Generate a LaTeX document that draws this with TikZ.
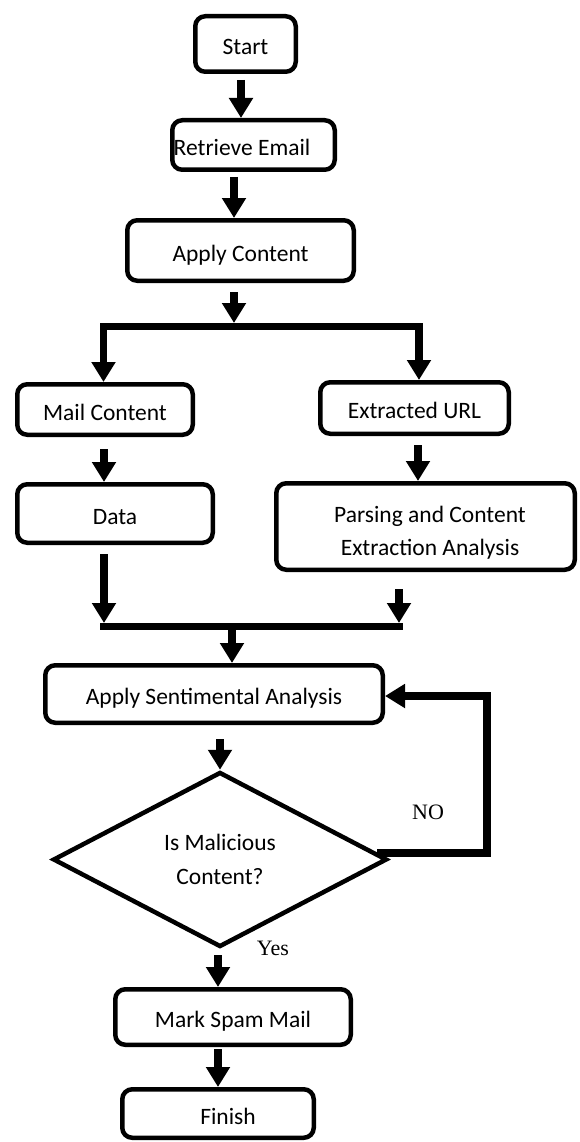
\documentclass[tikz,border=0pt]{standalone}
\usepackage{fontspec}
\setmainfont{Carlito}
\newfontfamily\timesf{Liberation Serif}
\usetikzlibrary{arrows.meta,shapes.geometric,calc}
\begin{document}
\begin{tikzpicture}[x=1pt,y=-1pt,
  box/.style={draw, line width=4.5pt, rounded corners=10pt, inner sep=0pt,
    font=\fontsize{23.5}{33}\selectfont, text height=25pt, text depth=3.8pt},
  mbox/.style={draw, line width=4.5pt, rounded corners=10pt, inner sep=0pt,
    font=\fontsize{23.5}{33}\selectfont, align=center, text height=60pt, text depth=1.8pt},
  dec/.style={draw, diamond, line width=4.5pt, inner sep=0pt,
    font=\fontsize{23.5}{34}\selectfont, align=center},
  bar/.style={line width=7.5pt, line cap=rect},
  arr/.style={line width=7.5pt, line join=miter, -{Triangle[width=23pt,length=20pt]}},
  lab/.style={font=\timesf\fontsize{22}{26}\selectfont}
]
\useasboundingbox (0,0) rectangle (579,1142);

% nodes
\node[box, minimum width=100.5pt, minimum height=55.5pt] (start) at (245.5,44) {Start};
\node[box, minimum width=162.5pt, minimum height=49.5pt] (retrieve) at (253.5,145) {\hspace*{-23pt}Retrieve Email};
\node[box, minimum width=226.5pt, minimum height=60.5pt] (apply) at (240.5,250.5) {Apply Content};
\node[box, minimum width=175.5pt, minimum height=50.5pt] (mail) at (105,409.5) {Mail Content};
\node[box, minimum width=188.5pt, minimum height=51.5pt] (url) at (414.5,408) {Extracted URL};
\node[box, minimum width=195.5pt, minimum height=58.5pt] (data) at (115,513.5) {Data};
\node[mbox, minimum width=298.5pt, minimum height=86.5pt] (parsing) at (425.5,526.5) {\hspace*{9pt}Parsing and Content\\\hspace*{9pt}Extraction Analysis};
\node[box, minimum width=337.5pt, minimum height=57.5pt] (sent) at (214,694) {Apply Sentimental Analysis};
\node[dec, minimum width=334pt, minimum height=175pt] (dia) at (220,859.5) {Is Malicious\\Content?};
\node[box, minimum width=235.5pt, minimum height=55.5pt] (mark) at (233,1017) {Mark Spam Mail};
\node[box, minimum width=191.5pt, minimum height=48.5pt] (finish) at (218,1113.5) {\hspace*{20pt}Finish};

\node[lab] (no) at (428,812) {NO};
\node[lab] (yes) at (273,948) {Yes};

% helper coordinates
\coordinate (split) at (234,326.5);
\coordinate (mL) at (104,626.5);
\coordinate (mR) at (399,626.5);
\coordinate (merge) at (232,626.5);
\coordinate (loopT) at (487,696);

% connectors
\draw[arr] ($(start.south)+(-4.5,6)$) -- ($(retrieve.north)+(-12.5,0)$);
\draw[arr] ($(retrieve.south)+(-19.5,5)$) -- ($(apply.north)+(-6.5,0)$);
\draw[arr, shorten >=3.5pt] ($(apply.south)+(-6.5,9)$) -- (split);
\draw[arr] (split) -| ($(mail.north)+(-1.5,0)$);
\draw[arr] (split) -| ($(url.north)+(4.5,0)$);
\draw[arr] ($(mail.south)+(-1,12)$) -- ($(data.north)+(-11,0)$);
\draw[arr] ($(url.south)+(3.5,9)$) -- ($(parsing.north)+(-7.5,0)$);
\draw[arr, shorten >=3.5pt] ($(data.south)+(-11,9)$) -- (mL);
\draw[arr, shorten >=3.5pt] ($(parsing.south)+(-26.5,17)$) -- (mR);
\draw[bar] (mL) -- (mR);
\draw[arr] (merge) -- ($(sent.north)+(18,0)$);
\draw[arr] ($(sent.south)+(6,14)$) -- (dia.north);
\draw[arr, line width=8pt] ($(dia.east)+(-12,-7)$) -| (loopT) -- (loopT -| sent.east);
\draw[arr] ($(dia.south)+(-2,6)$) -- ($(mark.north)+(-15,0)$);
\draw[arr] ($(mark.south)+(-15,2.25)$) -- (finish.north);
\end{tikzpicture}
\end{document}
